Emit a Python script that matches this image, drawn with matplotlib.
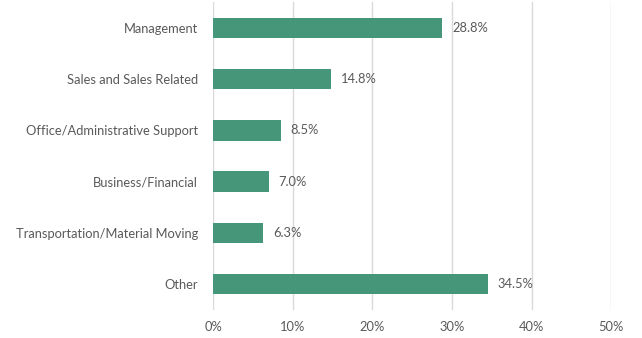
import matplotlib
matplotlib.use("Agg")
import matplotlib.pyplot as plt
from matplotlib.ticker import FuncFormatter

categories = ["Management", "Sales and Sales Related", "Office/Administrative Support",
              "Business/Financial", "Transportation/Material Moving", "Other"]
values = [28.8, 14.8, 8.5, 7.0, 6.3, 34.5]
xticks = [0, 10, 20, 30, 40, 50]

plt.rcParams['font.family'] = ['Lato', 'DejaVu Sans']
text_color = "#595959"
bar_color = "#46967a"

fig = plt.figure(figsize=(6.42, 3.38), dpi=100)
ax = fig.add_axes([0.332, 0.084, 0.62, 0.909])

y = list(range(len(categories)))
ax.barh(y, values, height=0.4, color=bar_color, zorder=3)
for yi, v in zip(y, values):
    ax.text(v + 1.2, yi, f"{v:.1f}%", va="center", ha="left", fontsize=9.3, color=text_color)

ax.set_yticks(y)
ax.set_yticklabels(categories, fontsize=9.3, color=text_color)
ax.set_ylim(len(categories) - 0.5, -0.5)
ax.set_xlim(0, 50)
ax.set_xticks(xticks)
ax.xaxis.set_major_formatter(FuncFormatter(lambda v, p: f"{v:.0f}%"))
ax.tick_params(axis="x", labelsize=9.3, colors=text_color, length=0, pad=8)
ax.tick_params(axis="y", length=0, pad=11)
ax.grid(axis="x", color="#d9d9d9", linewidth=1, zorder=0)
for s in ax.spines.values():
    s.set_visible(False)

fig.savefig("out.png", dpi=100)
